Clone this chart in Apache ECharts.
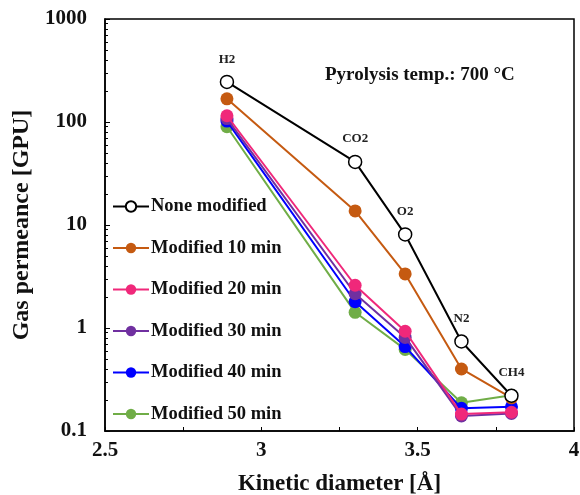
<!DOCTYPE html>
<html>
<head>
<meta charset="utf-8">
<script src="https://cdn.jsdelivr.net/npm/echarts@6/dist/echarts.min.js"></script>
<style>
  html, body { margin: 0; padding: 0; background: #fff; }
  #chart { width: 580px; height: 495px; }
</style>
</head>
<body>
<div id="chart"></div>
<script>
const gasNames = ['H2', 'CO2', 'O2', 'N2', 'CH4'];
const kineticDiameter = [2.89, 3.3, 3.46, 3.64, 3.8];

const noneModified = [245, 41, 8.1, 0.74, 0.22];
const modified10 = [168, 13.7, 3.35, 0.40, 0.21];
const modified20 = [115, 2.6, 0.93, 0.146, 0.152];
const modified30 = [108, 2.15, 0.81, 0.14, 0.148];
const modified40 = [102, 1.8, 0.66, 0.166, 0.172];
const modified50 = [90, 1.42, 0.62, 0.188, 0.222];

const seriesNames = ['None modified', 'Modified 10 min', 'Modified 20 min',
  'Modified 30 min', 'Modified 40 min', 'Modified 50 min'];
const seriesColors = ['#000000', '#C55A11', '#F0287A', '#7030A0', '#0000FF', '#70AD47'];
const seriesValues = [noneModified, modified10, modified20, modified30, modified40, modified50];

const serif = '"Liberation Serif", "Times New Roman", serif';

function pairs(values) {
  return values.map((v, i) => [kineticDiameter[i], v]);
}

const chart = echarts.init(document.getElementById('chart'));

const series = seriesValues.map((vals, k) => {
  const isNone = k === 0;
  const s = {
    name: seriesNames[k],
    type: 'line',
    data: pairs(vals),
    symbol: 'circle',
    symbolSize: 13,
    lineStyle: { color: seriesColors[k], width: 2 },
    itemStyle: isNone
      ? { color: '#fff', borderColor: '#000', borderWidth: 1.5 }
      : { color: seriesColors[k], borderColor: seriesColors[k], borderWidth: 0 },
    emphasis: { disabled: true },
    z: 10 - k
  };
  if (isNone) {
    s.z = 20;
    s.label = {
      show: true,
      position: 'top',
      distance: 9,
      fontFamily: serif,
      fontWeight: 'bold',
      fontSize: 13,
      color: '#222',
      formatter: p => gasNames[p.dataIndex]
    };
  }
  return s;
});

const option = {
  animation: false,
  backgroundColor: '#fff',
  title: {
    text: 'Pyrolysis temp.: 700 °C',
    left: 320,
    top: 61,
    textStyle: { fontFamily: serif, fontWeight: 'bold', fontSize: 19, color: '#111' }
  },
  legend: {
    orient: 'vertical',
    left: 107,
    top: 192,
    itemWidth: 36,
    itemHeight: 13,
    itemGap: 22.5,
    data: seriesNames,
    textStyle: { fontFamily: serif, fontWeight: 'bold', fontSize: 18.5, color: '#111', padding: [0, 0, 0, -3] }
  },
  grid: {
    left: 105, right: 6, top: 19, bottom: 64,
    outerBoundsMode: 'none',
    containLabel: false,
    show: true, borderColor: '#000', borderWidth: 1.5
  },
  xAxis: {
    type: 'value',
    min: 2.5, max: 4, interval: 0.5,
    name: 'Kinetic diameter [Å]',
    nameLocation: 'middle',
    nameGap: 42,
    nameTextStyle: { fontFamily: serif, fontWeight: 'bold', fontSize: 23, color: '#111' },
    axisLine: { lineStyle: { color: '#000', width: 1.5 } },
    axisTick: { inside: true, length: 4, lineStyle: { color: '#000' } },
    minorTick: { show: true, splitNumber: 2, length: 4, lineStyle: { color: '#000' } },
    splitLine: { show: false },
    axisLabel: { fontFamily: serif, fontWeight: 'bold', fontSize: 21, color: '#111', margin: 9 }
  },
  yAxis: {
    type: 'log',
    logBase: 10,
    min: 0.1, max: 1000,
    name: 'Gas permeance [GPU]',
    nameLocation: 'middle',
    nameGap: 58,
    nameTextStyle: { fontFamily: serif, fontWeight: 'bold', fontSize: 24, color: '#111' },
    axisLine: { show: true, lineStyle: { color: '#000', width: 1.5 } },
    axisTick: { inside: true, length: 5, lineStyle: { color: '#000' } },
    minorTick: { show: true, splitNumber: 9, length: 3, lineStyle: { color: '#000' } },
    splitLine: { show: false },
    axisLabel: {
      fontFamily: serif, fontWeight: 'bold', fontSize: 21, color: '#111', margin: 18,
      formatter: v => String(v)
    }
  },
  series: series
};

chart.setOption(option);
</script>
</body>
</html>
